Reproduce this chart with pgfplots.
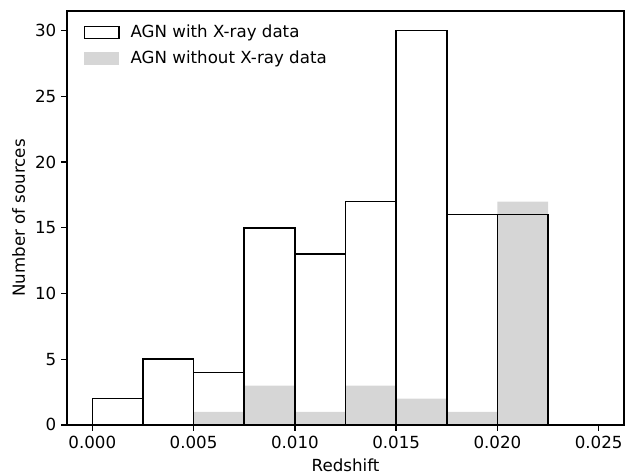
\documentclass[border=0pt]{standalone}
\usepackage{fontspec}
\setmainfont{DejaVu Sans}
\usepackage{pgfplots}
\pgfplotsset{compat=1.18}
\definecolor{nogray}{RGB}{214,214,214}
\newcommand{\plotfont}{\fontsize{12}{14}\selectfont}
\begin{document}
\begin{tikzpicture}[font=\plotfont]
\begin{axis}[
  scale only axis,
  width=401pt, height=298pt,
  xmin=-0.00125, xmax=0.02625,
  ymin=0, ymax=31.5,
  xtick={0,0.005,0.01,0.015,0.02,0.025},
  ytick={0,5,10,15,20,25,30},
  scaled x ticks=false,
  xticklabel style={/pgf/number format/.cd, fixed, fixed zerofill, precision=3},
  /pgf/number format/assume math mode=true,
  tick label style={font=\plotfont},
  label style={font=\plotfont},
  tick align=outside,
  tick pos=left,
  major tick length=4.2pt,
  axis line style={line width=0.96pt},
  every tick/.style={black, line width=0.96pt},
  xlabel={Redshift},
  ylabel={Number of sources},
  xlabel style={at={(axis description cs:0.5,-0.0973)}, anchor=center},
  ylabel style={at={(axis description cs:-0.087,0.5)}, anchor=center},
  legend cell align=left,
  legend style={at={(axis description cs:0,1)}, anchor=north west,
    draw=none, fill=none, xshift=9pt, yshift=-6pt, font=\plotfont,
    row sep=4pt, nodes={inner sep=2pt}},
]
% legend entries
\addlegendimage{legend image code/.code={\draw[black, line width=1.1pt, fill=none] (0pt,-4.3pt) rectangle (24.5pt,4.3pt);}}
\addlegendentry{\hspace{6pt}AGN with X-ray data}
\addlegendimage{legend image code/.code={\fill[nogray] (0pt,-4.3pt) rectangle (24.5pt,4.3pt);}}
\addlegendentry{\hspace{6pt}AGN without X-ray data}
% AGN without X-ray data (filled, underneath)
\addplot[ybar interval, fill=nogray, draw=none, forget plot] coordinates {
  (0.0000,0) (0.0025,0) (0.0050,1) (0.0075,3) (0.0100,1)
  (0.0125,3) (0.0150,2) (0.0175,1) (0.0200,17) (0.0225,17)
};
% AGN with X-ray data (outlined)
\addplot[ybar interval, fill=none, draw=black, line width=1.1pt, forget plot] coordinates {
  (0.0000,2) (0.0025,5) (0.0050,4) (0.0075,15) (0.0100,13)
  (0.0125,17) (0.0150,30) (0.0175,16) (0.0200,16) (0.0225,16)
};
\end{axis}
\pgfresetboundingbox
\path (current axis.south west) +(-48.24pt,-36pt)
      (current axis.north east) +(7.92pt,7.92pt);
\end{tikzpicture}
\end{document}
